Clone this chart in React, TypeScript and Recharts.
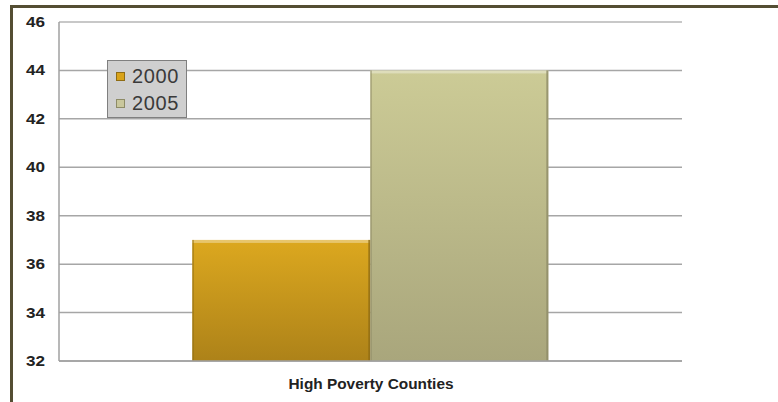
import React from 'react'
import { BarChart, Bar, XAxis, YAxis, CartesianGrid, ReferenceLine } from 'recharts'

const categories = ['High Poverty Counties']
const values2000 = [37]
const values2005 = [44]
const yTicks = [32, 34, 36, 38, 40, 42, 44, 46]

const data = categories.map((name, i) => ({
  name,
  y2000: values2000[i],
  y2005: values2005[i]
}))

const series = [
  { key: 'y2000', label: '2000', top: '#dca81f', bottom: '#ad8219', edge: '#8f6c14', chip: '#d9a319' },
  { key: 'y2005', label: '2005', top: '#cccb96', bottom: '#a9a67c', edge: '#8d8b66', chip: '#c9c79c' }
]

const FONT = 'Liberation Sans, Arial, sans-serif'

// bar with a light top rim and a darker right edge
const BevelBar = (props: any) => {
  const { x, y, width, height, fill, edge } = props
  if (!height || height <= 0) return null
  return (
    <g>
      <rect x={x} y={y} width={width} height={height} fill={fill} />
      <rect x={x} y={y} width={width} height={3} fill="#ffffff" opacity={0.35} />
      <rect x={x} y={y} width={1.5} height={height} fill={edge} opacity={0.6} />
      <rect x={x + width - 2} y={y} width={2} height={height} fill={edge} opacity={0.8} />
    </g>
  )
}

// wide, heavy tick text
const YTick = (props: any) => {
  const { x, y, payload } = props
  return (
    <text
      x={x}
      y={y}
      dy={5}
      textAnchor="end"
      fill="#222"
      fontSize={14}
      fontWeight="bold"
      fontFamily={FONT}
      textLength={19}
      lengthAdjust="spacingAndGlyphs"
    >
      {payload.value}
    </text>
  )
}

const XTick = (props: any) => {
  const { x, y, payload } = props
  return (
    <text
      x={x - 82}
      y={y}
      dy={10}
      fill="#222"
      fontSize={14}
      fontWeight="bold"
      fontFamily={FONT}
      textLength={165}
      lengthAdjust="spacingAndGlyphs"
    >
      {payload.value}
    </text>
  )
}

const LegendBox = () => (
  <div
    style={{
      position: 'absolute',
      left: 107,
      top: 60,
      background: '#cfcfcf',
      border: '1px solid #7f7f7f',
      width: 80,
      height: 58,
      boxSizing: 'border-box',
      paddingLeft: 8,
      paddingTop: 2,
      fontFamily: FONT,
      fontSize: 20,
      letterSpacing: 0.6,
      color: '#3a3a3a'
    }}
  >
    {series.map((s) => (
      <div key={s.key} style={{ display: 'flex', alignItems: 'center', height: 27 }}>
        <span
          style={{
            display: 'inline-block',
            width: 9,
            height: 9,
            marginRight: 7,
            background: s.chip,
            border: `1px solid ${s.edge}`,
            boxSizing: 'border-box'
          }}
        />
        {s.label}
      </div>
    ))}
  </div>
)

const App: React.FC = () => {
  return (
    <div style={{ position: 'absolute', left: 0, top: 0, width: 778, height: 402, background: '#fff', overflow: 'hidden' }}>
      <div
        style={{
          position: 'absolute',
          left: 10,
          top: 5,
          width: 790,
          height: 420,
          borderLeft: '3px solid #544e33',
          borderTop: '3px solid #544e33'
        }}
      />
      <BarChart
        width={778}
        height={402}
        data={data}
        margin={{ top: 22, right: 96, left: 0, bottom: 0 }}
        barCategoryGap="21.4%"
        barGap={0}
        style={{ position: 'absolute', left: 0, top: 0 }}
      >
        <defs>
          {series.map((s) => (
            <linearGradient key={s.key} id={`grad-${s.key}`} x1="0" y1="0" x2="0" y2="1">
              <stop offset="0%" stopColor={s.top} />
              <stop offset="100%" stopColor={s.bottom} />
            </linearGradient>
          ))}
        </defs>
        <CartesianGrid vertical={false} stroke="#a6a6a6" strokeWidth={1.5} />
        <ReferenceLine y={46} stroke="#cdcdcd" strokeWidth={1.5} />
        <XAxis
          dataKey="name"
          height={41}
          tickLine={false}
          axisLine={{ stroke: '#a0a0a0', strokeWidth: 1.5 }}
          tickMargin={12}
          tick={<XTick />}
        />
        <YAxis
          width={59}
          domain={[32, 46]}
          ticks={yTicks}
          interval={0}
          tickLine={false}
          axisLine={{ stroke: '#a0a0a0', strokeWidth: 1.5 }}
          tickMargin={8}
          tick={<YTick />}
        />
        {series.map((s) => (
          <Bar
            key={s.key}
            dataKey={s.key}
            name={s.label}
            fill={`url(#grad-${s.key})`}
            isAnimationActive={false}
            shape={(p: any) => <BevelBar {...p} edge={s.edge} />}
          />
        ))}
      </BarChart>
      <LegendBox />
    </div>
  )
}

export default App
